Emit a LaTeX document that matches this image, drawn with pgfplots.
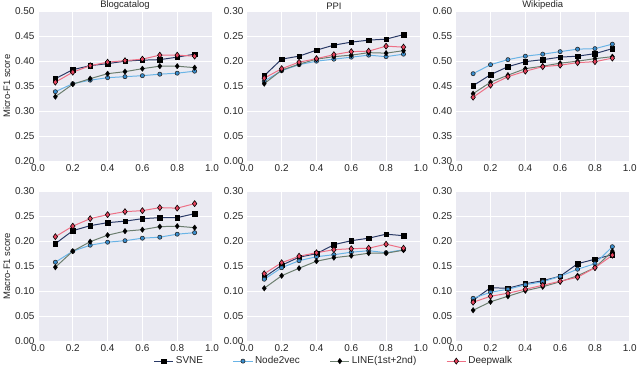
\documentclass[border=0pt]{standalone}
\usepackage{pgfplots}
\pgfplotsset{compat=1.18}
\usepgfplotslibrary{groupplots}
\usepackage{fontspec}
\setmainfont{Liberation Sans}
\definecolor{bgc}{HTML}{EAEAF2}
\definecolor{cs}{HTML}{2A3A66}
\definecolor{cn}{HTML}{6AB4E6}
\definecolor{cnf}{HTML}{3A8FD0}
\definecolor{cl}{HTML}{6B7D6E}
\definecolor{cd}{HTML}{EE7085}
\definecolor{cdf}{HTML}{E8455F}
\definecolor{tc}{HTML}{262626}
\pgfplotsset{
  svne/.style={color=cs, line width=1pt, mark=square*, mark size=2.3pt, mark options={fill=black, draw=black, line width=0.4pt}},
  n2v/.style={color=cn, line width=1pt, mark=*, mark size=2.1pt, mark options={fill=cnf, draw=black!85, line width=0.6pt}},
  linee/.style={color=cl, line width=1pt, mark=diamond*, mark size=2.8pt, mark options={fill=black, draw=black, line width=0.3pt}},
  dw/.style={color=cd, line width=1pt, mark=diamond*, mark size=3pt, mark options={fill=cdf, draw=black, line width=0.6pt}},
  every axis title shift=0pt,
}
\begin{document}
\begin{tikzpicture}
\begin{groupplot}[
  group style={group size=3 by 2, horizontal sep=35pt, vertical sep=30pt},
  width=175pt, height=151pt, scale only axis,
  axis background/.style={fill=bgc},
  axis line style={draw=none},
  tick style={draw=none},
  grid=major, grid style={white, line width=0.9pt},
  xmin=0, xmax=1, xtick={0,0.2,0.4,0.6,0.8,1.0},
  /pgf/number format/assume math mode=true,
  xticklabel style={/pgf/number format/.cd, fixed, fixed zerofill, precision=1},
  yticklabel style={/pgf/number format/.cd, fixed, fixed zerofill, precision=2},
  ticklabel style={font=\fontsize{10}{12}\selectfont, text=tc},
  title style={font=\fontsize{9.5}{11}\selectfont, text=tc, inner xsep=0pt, inner ysep=0.8pt, yshift=0.5pt},
  ylabel style={font=\fontsize{9.5}{11}\selectfont, text=tc, yshift=-2pt},
  legend style={font=\fontsize{10}{12}\selectfont, text=tc},
  legend image code/.code={\draw[mark repeat=2,mark phase=2] plot coordinates {(0cm,0cm)(0.34cm,0cm)(0.68cm,0cm)};},
]
\nextgroupplot[title={Blogcatalog}, ylabel={Micro-F1 score}, ymin=0.2, ymax=0.5, ytick={0.20,0.25,0.30,0.35,0.40,0.45,0.50}]
\addplot[svne] coordinates {(0.1,0.365)(0.2,0.383)(0.3,0.391)(0.4,0.395)(0.5,0.400)(0.6,0.402)(0.7,0.403)(0.8,0.408)(0.9,0.414)};
\addplot[n2v] coordinates {(0.1,0.339)(0.2,0.355)(0.3,0.362)(0.4,0.367)(0.5,0.369)(0.6,0.371)(0.7,0.374)(0.8,0.376)(0.9,0.380)};
\addplot[linee] coordinates {(0.1,0.329)(0.2,0.354)(0.3,0.365)(0.4,0.375)(0.5,0.379)(0.6,0.385)(0.7,0.390)(0.8,0.390)(0.9,0.387)};
\addplot[dw] coordinates {(0.1,0.358)(0.2,0.378)(0.3,0.391)(0.4,0.398)(0.5,0.401)(0.6,0.404)(0.7,0.412)(0.8,0.412)(0.9,0.410)};
\nextgroupplot[title={PPI}, ymin=0, ymax=0.3, ytick={0,0.05,0.10,0.15,0.20,0.25,0.30}]
\addplot[svne] coordinates {(0.1,0.171)(0.2,0.204)(0.3,0.210)(0.4,0.222)(0.5,0.232)(0.6,0.238)(0.7,0.242)(0.8,0.244)(0.9,0.253)};
\addplot[n2v] coordinates {(0.1,0.160)(0.2,0.181)(0.3,0.193)(0.4,0.200)(0.5,0.204)(0.6,0.208)(0.7,0.212)(0.8,0.209)(0.9,0.214)};
\addplot[linee] coordinates {(0.1,0.155)(0.2,0.182)(0.3,0.194)(0.4,0.204)(0.5,0.209)(0.6,0.212)(0.7,0.217)(0.8,0.216)(0.9,0.221)};
\addplot[dw] coordinates {(0.1,0.166)(0.2,0.185)(0.3,0.198)(0.4,0.205)(0.5,0.213)(0.6,0.219)(0.7,0.220)(0.8,0.230)(0.9,0.228)};
\nextgroupplot[title={Wikipedia}, ymin=0.3, ymax=0.6, ytick={0.30,0.35,0.40,0.45,0.50,0.55,0.60}]
\addplot[svne] coordinates {(0.1,0.451)(0.2,0.473)(0.3,0.489)(0.4,0.499)(0.5,0.503)(0.6,0.508)(0.7,0.510)(0.8,0.515)(0.9,0.525)};
\addplot[n2v] coordinates {(0.1,0.475)(0.2,0.493)(0.3,0.503)(0.4,0.510)(0.5,0.514)(0.6,0.519)(0.7,0.524)(0.8,0.525)(0.9,0.534)};
\addplot[linee] coordinates {(0.1,0.435)(0.2,0.458)(0.3,0.472)(0.4,0.485)(0.5,0.490)(0.6,0.496)(0.7,0.500)(0.8,0.505)(0.9,0.509)};
\addplot[dw] coordinates {(0.1,0.428)(0.2,0.452)(0.3,0.469)(0.4,0.480)(0.5,0.489)(0.6,0.492)(0.7,0.497)(0.8,0.499)(0.9,0.506)};
\nextgroupplot[ylabel={Macro-F1 score}, ymin=0, ymax=0.3, ytick={0,0.05,0.10,0.15,0.20,0.25,0.30}]
\addplot[svne] coordinates {(0.1,0.195)(0.2,0.221)(0.3,0.231)(0.4,0.237)(0.5,0.240)(0.6,0.245)(0.7,0.247)(0.8,0.247)(0.9,0.255)};
\addplot[n2v] coordinates {(0.1,0.158)(0.2,0.180)(0.3,0.192)(0.4,0.198)(0.5,0.201)(0.6,0.206)(0.7,0.208)(0.8,0.214)(0.9,0.217)};
\addplot[linee] coordinates {(0.1,0.148)(0.2,0.180)(0.3,0.199)(0.4,0.212)(0.5,0.220)(0.6,0.223)(0.7,0.229)(0.8,0.230)(0.9,0.227)};
\addplot[dw] coordinates {(0.1,0.209)(0.2,0.230)(0.3,0.245)(0.4,0.253)(0.5,0.259)(0.6,0.261)(0.7,0.267)(0.8,0.266)(0.9,0.275)};
\nextgroupplot[ymin=0, ymax=0.3, ytick={0,0.05,0.10,0.15,0.20,0.25,0.30},
  legend columns=4, legend style={draw=none, fill=none, inner sep=0pt, nodes={inner ysep=1pt}, at={(0.5,-0.095)}, anchor=north, /tikz/every even column/.append style={column sep=28pt}}]
\addplot[svne] coordinates {(0.1,0.128)(0.2,0.152)(0.3,0.168)(0.4,0.175)(0.5,0.193)(0.6,0.201)(0.7,0.206)(0.8,0.214)(0.9,0.211)};
\addplot[n2v] coordinates {(0.1,0.124)(0.2,0.147)(0.3,0.161)(0.4,0.169)(0.5,0.173)(0.6,0.178)(0.7,0.181)(0.8,0.177)(0.9,0.183)};
\addplot[linee] coordinates {(0.1,0.106)(0.2,0.131)(0.3,0.146)(0.4,0.160)(0.5,0.167)(0.6,0.171)(0.7,0.176)(0.8,0.176)(0.9,0.182)};
\addplot[dw] coordinates {(0.1,0.135)(0.2,0.157)(0.3,0.170)(0.4,0.177)(0.5,0.183)(0.6,0.185)(0.7,0.186)(0.8,0.194)(0.9,0.186)};
\legend{SVNE, Node2vec, LINE(1st+2nd), Deepwalk}
\nextgroupplot[ymin=0, ymax=0.3, ytick={0,0.05,0.10,0.15,0.20,0.25,0.30}]
\addplot[svne] coordinates {(0.1,0.082)(0.2,0.107)(0.3,0.106)(0.4,0.115)(0.5,0.121)(0.6,0.130)(0.7,0.155)(0.8,0.164)(0.9,0.173)};
\addplot[n2v] coordinates {(0.1,0.086)(0.2,0.098)(0.3,0.104)(0.4,0.113)(0.5,0.119)(0.6,0.130)(0.7,0.144)(0.8,0.155)(0.9,0.189)};
\addplot[linee] coordinates {(0.1,0.062)(0.2,0.079)(0.3,0.090)(0.4,0.101)(0.5,0.109)(0.6,0.119)(0.7,0.131)(0.8,0.147)(0.9,0.180)};
\addplot[dw] coordinates {(0.1,0.078)(0.2,0.090)(0.3,0.096)(0.4,0.104)(0.5,0.112)(0.6,0.120)(0.7,0.128)(0.8,0.147)(0.9,0.172)};
\end{groupplot}
\end{tikzpicture}
\end{document}
